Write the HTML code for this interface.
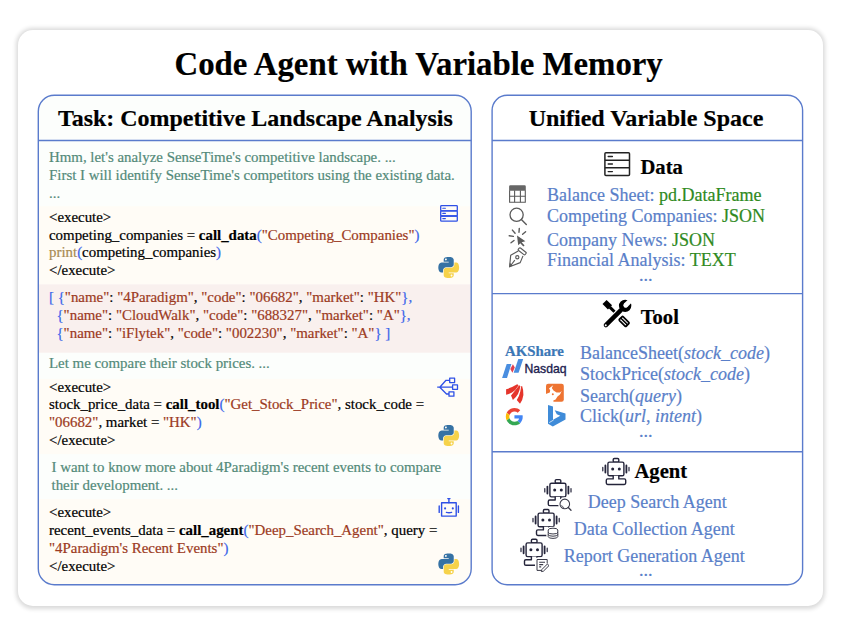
<!DOCTYPE html>
<html><head><meta charset="utf-8">
<style>
*{margin:0;padding:0;box-sizing:border-box}
html,body{width:846px;height:632px;background:#fff;overflow:hidden}
body{position:relative;font-family:"Liberation Serif",serif;color:#000}
.a{position:absolute;white-space:nowrap;margin-top:1px;-webkit-text-stroke:0.2px currentColor}
#card{position:absolute;left:18px;top:30px;width:805px;height:575.6px;border-radius:15px;background:#fff;box-shadow:0 0.5px 4px 2px rgba(0,0,0,.15)}
.panel{position:absolute;top:94.5px;height:491px;border:1.5px solid #5d7fcd;border-radius:16px;overflow:hidden;background:#fff}
#lp{left:37.75px;width:434.2px;background:#fcfefc}
#rp{left:491.4px;width:312px}
.hdr{position:absolute;left:0;right:0;top:0;height:45.25px;border-bottom:1.5px solid #5d7fcd}
.bg{position:absolute;left:0;right:0}
.th{background:#fbfdfa}
.cd{background:#fffcf6}
.js{background:#f9f0ee}
.t15{font-size:14.9px;line-height:15px}
.tc{color:#538a79}
.s{color:#9c3a22}
.p{color:#3a64ea}
.k{font-weight:bold}
.pr{color:#a88a52}
.r18{font-size:18px;line-height:18px}
.bl{color:#5a7fc9}
.gr{color:#2f8a22}
.sep{position:absolute;left:0;right:0;height:0;border-top:1.5px solid #5d7fcd}
</style></head><body>
<div id="card"></div>
<svg width="846" height="632" style="position:absolute;left:0;top:0">
<defs><clipPath id="lpc"><rect x="38.3" y="95.3" width="432.9" height="489.4" rx="16"/></clipPath></defs>
<g clip-path="url(#lpc)">
  <rect x="30" y="90" width="450" height="500" fill="#fcfefc"/>
  <rect x="30" y="206.3" width="450" height="78" fill="#fffcf6"/>
  <rect x="30" y="284.3" width="450" height="68.4" fill="#f9f0ee"/>
  <rect x="30" y="378.9" width="450" height="75.2" fill="#fffcf6"/>
  <rect x="30" y="499" width="450" height="100" fill="#fffcf6"/>
</g>
<g fill="none" stroke="#5a7bcc" stroke-width="1.4">
  <rect x="38.3" y="95.3" width="432.9" height="489.4" rx="16"/>
  <rect x="492.1" y="95.3" width="310.5" height="489.4" rx="15"/>
  <path d="M38.3 140.5H471.2M492.1 140.5H802.6M492.1 293.6H802.6M492.1 451.8H802.6"/>
</g>
</svg>
<div class="a" style="left:174.5px;top:47px;font-size:32.8px;line-height:33px;font-weight:bold">Code Agent with Variable Memory</div>

<div class="a k" style="left:58px;top:105px;font-size:23.95px;line-height:24px">Task: Competitive Landscape Analysis</div>

<!-- left texts -->
<div class="a t15 tc" style="left:49px;top:149px">Hmm, let's analyze SenseTime's competitive landscape. ...</div>
<div class="a t15 tc" style="left:49px;top:167px">First I will identify SenseTime's competitors using the existing data.</div>
<div class="a t15 tc" style="left:49px;top:185px">...</div>

<div class="a t15" style="left:49px;top:209px">&lt;execute&gt;</div>
<div class="a t15" style="left:49px;top:227px">competing_companies = <span class="k">call_data</span><span class="p">(</span><span class="s">"Competing_Companies"</span><span class="p">)</span></div>
<div class="a t15" style="left:49px;top:244px"><span class="pr">print</span><span class="p">(</span>competing_companies<span class="p">)</span></div>
<div class="a t15" style="left:49px;top:262px">&lt;/execute&gt;</div>

<div class="a t15" style="left:49px;top:289px"><span class="p">[ {</span><span class="s">"name"</span>: <span class="s">"4Paradigm"</span>, <span class="s">"code"</span>: <span class="s">"06682"</span>, <span class="s">"market"</span>: <span class="s">"HK"</span><span class="p">},</span></div>
<div class="a t15" style="left:49px;top:307px">&nbsp;&nbsp;<span class="p">{</span><span class="s">"name"</span>: <span class="s">"CloudWalk"</span>, <span class="s">"code"</span>: <span class="s">"688327"</span>, <span class="s">"market"</span>: <span class="s">"A"</span><span class="p">},</span></div>
<div class="a t15" style="left:49px;top:325px">&nbsp;&nbsp;<span class="p">{</span><span class="s">"name"</span>: <span class="s">"iFlytek"</span>, <span class="s">"code"</span>: <span class="s">"002230"</span>, <span class="s">"market"</span>: <span class="s">"A"</span><span class="p">} ]</span></div>

<div class="a t15 tc" style="left:49px;top:355px">Let me compare their stock prices. ...</div>

<div class="a t15" style="left:49px;top:379px">&lt;execute&gt;</div>
<div class="a t15" style="left:49px;top:396px">stock_price_data = <span class="k">call_tool</span><span class="p">(</span><span class="s">"Get_Stock_Price"</span>, stock_code =</div>
<div class="a t15" style="left:49px;top:414px"><span class="s">"06682"</span>, market = <span class="s">"HK"</span><span class="p">)</span></div>
<div class="a t15" style="left:49px;top:432px">&lt;/execute&gt;</div>

<div class="a t15 tc" style="left:51.5px;top:459px">I want to know more about 4Paradigm's recent events to compare</div>
<div class="a t15 tc" style="left:51.5px;top:477px">their development. ...</div>

<div class="a t15" style="left:49px;top:504px">&lt;execute&gt;</div>
<div class="a t15" style="left:49px;top:522px">recent_events_data = <span class="k">call_agent</span><span class="p">(</span><span class="s">"Deep_Search_Agent"</span>, query =</div>
<div class="a t15" style="left:49px;top:540px"><span class="s">"4Paradigm's Recent Events"</span><span class="p">)</span></div>
<div class="a t15" style="left:49px;top:558px">&lt;/execute&gt;</div>

<!-- right panel -->
<div class="a k" style="left:490.5px;width:311px;text-align:center;top:105px;font-size:24px;line-height:24px">Unified Variable Space</div>

<div class="a k" style="left:640.5px;top:156px;font-size:20.6px;line-height:20px">Data</div>
<div class="a r18 bl" style="left:547px;top:185px">Balance Sheet: <span class="gr">pd.DataFrame</span></div>
<div class="a r18 bl" style="left:547px;top:206px">Competing Companies: <span class="gr">JSON</span></div>
<div class="a r18 bl" style="left:547px;top:230px">Company News: <span class="gr">JSON</span></div>
<div class="a r18 bl" style="left:547px;top:250px">Financial Analysis: <span class="gr">TEXT</span></div>
<div class="a r18 bl" style="left:639px;top:265px">...</div>

<div class="a k" style="left:640.7px;top:306px;font-size:20.6px;line-height:20px">Tool</div>
<div class="a r18 bl" style="left:580px;top:343px">BalanceSheet(<i>stock_code</i>)</div>
<div class="a r18 bl" style="left:580px;top:364px">StockPrice(<i>stock_code</i>)</div>
<div class="a r18 bl" style="left:580px;top:386px">Search(<i>query</i>)</div>
<div class="a r18 bl" style="left:580px;top:406px">Click(<i>url</i>, <i>intent</i>)</div>
<div class="a r18 bl" style="left:639px;top:421px">...</div>

<div class="a k" style="left:634.5px;top:460px;font-size:20.6px;line-height:20px">Agent</div>
<div class="a r18 bl" style="left:587.8px;top:492px">Deep Search Agent</div>
<div class="a r18 bl" style="left:573.8px;top:519px">Data Collection Agent</div>
<div class="a r18 bl" style="left:563.8px;top:546px">Report Generation Agent</div>
<div class="a r18 bl" style="left:639px;top:560px">...</div>


<svg class="ov" width="846" height="632" viewBox="0 0 846 632" style="position:absolute;left:0;top:0">
<defs>
  <g id="py">
    <path fill="#3672a4" d="M54.9 0c-4.6 0-9 .4-12.8 1.1C30.8 3.1 28.7 7.3 28.7 15v10.2h26.7v3.4H18.7c-7.8 0-14.6 4.7-16.7 13.5-2.5 10.1-2.6 16.4 0 27 1.9 7.9 6.4 13.5 14.2 13.5h9.2V70.5c0-8.8 7.6-16.5 16.7-16.5h26.7c7.4 0 13.3-6.1 13.3-13.5V15c0-7.2-6.1-12.6-13.3-13.8C69.7.4 65 0 54.9 0zM40.4 8.2c2.8 0 5 2.3 5 5.1 0 2.8-2.3 5-5 5-2.8 0-5-2.3-5-5 0-2.8 2.2-5.1 5-5.1z"/>
    <path fill="#f6d24a" d="M85.5 28.6v11.9c0 9.2-7.8 17-16.7 17H42.1c-7.3 0-13.3 6.3-13.3 13.6v25.5c0 7.3 6.3 11.5 13.3 13.6 8.4 2.5 16.6 2.9 26.7 0 6.7-1.9 13.3-5.8 13.3-13.6V86.4H55.4V83h40.1c7.8 0 10.6-5.4 13.3-13.5 2.8-8.3 2.7-16.3 0-27-1.9-7.7-5.6-13.5-13.3-13.5H85.5zM70.5 93.1c2.8 0 5 2.3 5 5 0 2.8-2.3 5.1-5 5.1-2.8 0-5-2.3-5-5.1 0-2.8 2.3-5 5-5z"/>
  </g>
  <g id="robot" fill="none" stroke="#24243a" stroke-width="1.4" stroke-linejoin="round" stroke-linecap="round">
    <rect x="5.3" y="-3.6" width="5.6" height="3.6" rx="1.2"/>
    <rect x="0" y="0" width="16" height="13.7" rx="1.6" fill="#fff"/>
    <circle cx="4.8" cy="6.9" r="1.5" fill="#24243a" stroke="none"/>
    <circle cx="11.4" cy="6.9" r="1.5" fill="#24243a" stroke="none"/>
    <path d="M-2.5 3.4V10.4M18.5 3.4V10.4" stroke-width="1.8"/>
    <path d="M-5.1 5.3V8.7M21.1 5.3V8.7" stroke-width="1.2"/>
    <path d="M5.3 13.7V16.8H-0.2a1.4 1.4 0 0 0-1.4 1.4V21a1.4 1.4 0 0 0 1.4 1.4H16.4a1.4 1.4 0 0 0 1.4-1.4V18.2a1.4 1.4 0 0 0-1.4-1.4H10.9V13.7" fill="#fff"/>
  </g>
</defs>

<!-- left panel icons -->
<g fill="none" stroke="#2f50e6" stroke-width="1.3" stroke-linejoin="round">
  <rect x="440.7" y="205.6" width="16.6" height="5.2" rx="0.8"/>
  <rect x="440.7" y="210.8" width="16.6" height="5.2" rx="0.8"/>
  <rect x="440.7" y="216" width="16.6" height="5.2" rx="0.8"/>
  <path d="M442.8 208.2h2.6M442.8 213.4h2.6M442.8 218.6h2.6" stroke-width="1.1" stroke-linecap="round"/>
</g>
<use href="#py" transform="translate(438.3 257) scale(0.188)"/>

<g fill="none" stroke="#2f50e6" stroke-width="1.3" stroke-linejoin="round">
  <path d="M437.2 387.2H452.3M439.8 387.2L446 380.3H449.6M439.8 387.2L446.5 394H449"/>
  <rect x="449.7" y="378.2" width="4.9" height="4.4"/>
  <rect x="452.6" y="384.9" width="4.9" height="4.4"/>
  <rect x="449" y="391.8" width="4.9" height="4.4"/>
</g>
<use href="#py" transform="translate(438.3 425) scale(0.188)"/>

<g fill="none" stroke="#2f50e6" stroke-width="1.4" stroke-linejoin="round" stroke-linecap="round">
  <rect x="441.6" y="502.8" width="14.6" height="13.3"/>
  <path d="M448.9 502.8V499.2M447.8 498.6h2.2" />
  <path d="M439.2 506V512.4M458.4 506V512.4"/>
  <path d="M446.4 512.4Q449 513.1 451.6 512.4"/>
  <circle cx="445.1" cy="508.4" r="1.05" fill="#2f50e6" stroke="none"/>
  <circle cx="452.8" cy="508.4" r="1.05" fill="#2f50e6" stroke="none"/>
</g>
<use href="#py" transform="translate(438.3 553.5) scale(0.188)"/>

<!-- right: data header icon -->
<g fill="none" stroke="#222" stroke-width="1.5" stroke-linejoin="round">
  <rect x="604.9" y="152.8" width="24.6" height="22.8" rx="1"/>
  <path d="M604.9 160.2H629.5M604.9 167.8H629.5"/>
  <path d="M608.2 156.5h4.2M608.2 164h4.2M608.2 171.6h4.2" stroke-linecap="round" stroke-width="1.4"/>
</g>

<!-- data list icons -->
<g fill="none" stroke="#5a5a5a" stroke-width="1.1">
  <path d="M509.6 190.3V202.2H525.3V190.3" />
  <path d="M509.6 196.2H525.3M514.6 190.3V202.2M520.4 190.3V202.2"/>
  <path d="M509.1 186.5a1.2 1.2 0 0 1 1.2-1.2h14.3a1.2 1.2 0 0 1 1.2 1.2v4.3h-16.7z" fill="#666" stroke="none"/>
  <circle cx="516.6" cy="214.8" r="6.6" stroke-width="1.3"/>
  <path d="M521.4 219.6L526.3 224.5" stroke-width="1.4" stroke-linecap="round"/>
  <path d="M512.4 230.1L515.1 233.2M519.3 228.4L519 232.3M525.6 231.8L522.6 234.3M509.2 235.8L513.4 236.4M511 242.8L514 240.5" stroke-width="1.4" stroke-linecap="round"/>
</g>
<path d="M517 235.6L525.4 241.2L521.6 242.3L524.6 245.6L523.3 246.6L520.3 243.3L518.2 245.2Z" fill="#5a5a5a"/>
<g fill="none" stroke="#5a5a5a" stroke-width="1.15" stroke-linejoin="round">
  <rect x="517.9" y="249.8" width="8.6" height="3.1" rx="0.9" transform="rotate(38 522.2 251.35)"/>
  <path d="M518.2 251L510.7 255.3L509.6 266.8L520.2 262.6L523 255.9"/>
  <path d="M510.3 266L514.8 260.2"/>
  <circle cx="517.3" cy="257.2" r="1.6"/>
</g>
<path d="M509.2 267.5L509.8 262.8L512.8 265.5Z" fill="#5a5a5a"/>

<!-- tool header icon -->
<g fill="#000">
  <g transform="translate(617 314) rotate(45)">
    <rect x="-17.3" y="-2.6" width="7.7" height="5.8"/>
    <rect x="-10" y="-1.3" width="7" height="3" />
    <rect x="4.6" y="-3.3" width="11.4" height="7" rx="1.8"/>
  </g>
  <g transform="translate(617 314) rotate(-45)">
    <rect x="-18.5" y="-2.8" width="26.5" height="5.6" rx="2.8" stroke="#fff" stroke-width="1.2"/>
    <circle cx="11.5" cy="0" r="6.2"/>
  </g>
</g>
<g fill="#fff">
  <g transform="translate(617 314) rotate(45)">
    <rect x="6.3" y="-1.6" width="8" height="1" rx="0.5"/>
    <rect x="6.3" y="1" width="8" height="1" rx="0.5"/>
  </g>
  <g transform="translate(617 314) rotate(-45)">
    <circle cx="-15.9" cy="0" r="1"/>
    <circle cx="12.3" cy="0" r="2.4"/>
    <rect x="12.3" y="-2.4" width="8" height="4.8"/>
  </g>
</g>
<!-- tool list logos -->
<path d="M502.1 377.9H507L511.4 364H506.7Z" fill="#4a8ee0"/>
<path d="M518.3 359H523.2L518.6 372.7H513.7Z" fill="#4a8ee0"/>
<path d="M512.9 364.2L514.8 367.4L512.4 372.7L510.3 369.1Z" fill="#e2404e"/>
<g fill="#e5352b">
  <path d="M506.1 389.2Q512 387.5 517.2 384.3L518.6 385.2Q516 390 512 392.6Q509 394.2 506.1 394.8Z"/>
  <path d="M511 395.4Q514.5 391.5 519.2 385.2L520.4 386.2Q519.8 390 518 394Q515.8 397.8 512.9 400.1Z"/>
  <path d="M521.2 386.2L522.1 386Q523.6 390 523.4 395Q522.8 400 520 403.8Q518.5 402 516.8 400Q519.4 396 520.3 391.5Z"/>
</g>
<rect x="546" y="383.8" width="17.8" height="17.9" rx="2.2" fill="#ee7432"/>
<path d="M553.2 385.2L550.5 387.2L549 388.5L550.2 390.2L549.8 392.5L545.8 394V401.9H553.5L553.3 400.5L555.6 399.6L557.5 396.5L560 394.5L561.7 390.9L560 392.5L556.5 392.6L553.5 390.5L551.8 388Z" fill="#fff"/>
<circle cx="552.8" cy="394.3" r="1" fill="#ee7432"/>
<g transform="translate(505.8 408) scale(0.36)">
  <path fill="#EA4335" d="M24 9.5c3.54 0 6.71 1.22 9.21 3.6l6.85-6.85C35.9 2.38 30.47 0 24 0 14.62 0 6.51 5.380 2.56 13.22l7.98 6.19C12.43 13.72 17.74 9.5 24 9.5z"/>
  <path fill="#4285F4" d="M46.98 24.55c0-1.57-.15-3.09-.38-4.55H24v9.02h12.94c-.58 2.96-2.26 5.48-4.780 7.18l7.73 6c4.51-4.18 7.09-10.36 7.09-17.65z"/>
  <path fill="#FBBC05" d="M10.53 28.59c-.48-1.45-.76-2.99-.76-4.59s.27-3.14.76-4.59l-7.98-6.19C.92 16.46 0 20.12 0 24c0 3.88.92 7.54 2.56 10.78l7.97-6.19z"/>
  <path fill="#34A853" d="M24 48c6.48 0 11.930-2.13 15.89-5.81l-7.73-6c-2.15 1.45-4.92 2.3-8.16 2.3-6.26 0-11.57-4.22-13.47-9.91l-7.98 6.190C6.51 42.62 14.62 48 24 48z"/>
</g>
<path d="M548 405L553 406.5V419.8L560.3 415.8L556.8 414.2L554.7 410.2L565.5 413.6V419.4L552.8 426.6L548 423.8Z" fill="#3f8bd8"/><path d="M549.2 422.6L553.6 420" stroke="#fff" stroke-width="0.7"/>

<!-- agent robots -->
<use href="#robot" transform="translate(607.9 462.1)"/>
<use href="#robot" transform="translate(549.9 483.2)"/>
<use href="#robot" transform="translate(538.1 513.1)"/>
<use href="#robot" transform="translate(526.1 542.9)"/>
<!-- overlays -->
<g fill="#fff" stroke="#fff" stroke-width="3.4" stroke-linejoin="round">
  <circle cx="564.8" cy="503.9" r="5"/>
  <rect x="548" y="528.5" width="10" height="10" rx="3"/>
  <rect x="536.7" y="559.2" width="11" height="11.6" rx="1"/>
</g>
<g fill="#fff" stroke="#3a3a48" stroke-width="1.05">
  <circle cx="564.8" cy="503.9" r="4.8"/>
  <path d="M568.3 507.5L571 510.3" stroke-width="1.3" stroke-linecap="round"/>
  <path d="M561.5 505.2Q562.3 507 564.2 507.8" fill="none" stroke-width="0.8"/>
</g>
<g fill="#fff" stroke="#3a3a48" stroke-width="1">
  <ellipse cx="553" cy="530" rx="4.8" ry="1.8"/>
  <path d="M548.2 530V536.6A4.8 1.8 0 0 0 557.8 536.6V530" />
  <path d="M548.2 532.2A4.8 1.8 0 0 0 557.8 532.2M548.2 534.4A4.8 1.8 0 0 0 557.8 534.4"  fill="none"/>
</g>
<g fill="#fff" stroke="#3a3a48" stroke-width="1" stroke-linejoin="round">
  <path d="M537 559.5H547.2V563.5M537 559.5V570.4H541.5"/>
  <path d="M539.2 562.3H545M539.2 564.6H543.2M539.2 566.9H541.2" stroke-width="1.1"/>
  <path d="M541.8 569.6L547.4 564L549 565.6L543.4 571.2L541.4 571.6Z"/>
</g>
</svg>
<div class="a" style="left:505px;top:343px;font-size:14.8px;line-height:15px;font-weight:bold;color:#3b77b6">AKShare</div>
<div class="a" style="left:524.5px;top:362px;font-family:'Liberation Sans',sans-serif;font-size:12.2px;line-height:12px;font-weight:normal;color:#1c1c4e;-webkit-text-stroke:0.35px #1c1c4e">Nasdaq</div>
</body></html>
